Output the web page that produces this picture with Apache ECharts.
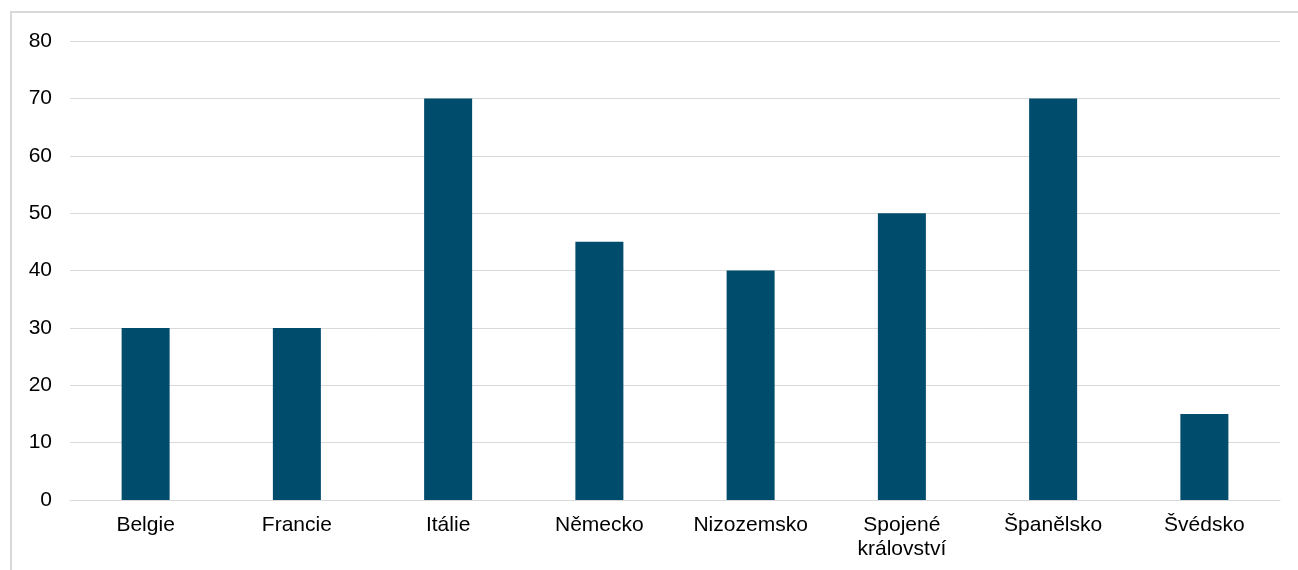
<!DOCTYPE html>
<html>
<head>
<meta charset="utf-8">
<script src="https://cdn.jsdelivr.net/npm/echarts@6/dist/echarts.min.js"></script>
<style>
  html, body { margin: 0; padding: 0; background: #fff; }
  #chart { width: 1298px; height: 570px; }
</style>
</head>
<body>
<div id="chart"></div>
<script>
const categories = ['Belgie', 'Francie', 'Itálie', 'Německo', 'Nizozemsko', 'Spojené\nkrálovství', 'Španělsko', 'Švédsko'];
const values = [30, 30, 70, 45, 40, 50, 70, 15];
const yTicks = { min: 0, max: 80, interval: 10 };

const chart = echarts.init(document.getElementById('chart'), null, { renderer: 'canvas' });
chart.setOption({
  animation: false,
  backgroundColor: '#ffffff',
  graphic: [{
    type: 'rect',
    shape: { x: 11, y: 12, width: 1300, height: 600 },
    style: { fill: 'none', stroke: '#d9d9d9', lineWidth: 2 },
    silent: true
  }],
  grid: { left: 70, right: 18, top: 41, bottom: 70, containLabel: false },
  xAxis: {
    type: 'category',
    data: categories,
    axisLine: { show: true, lineStyle: { color: '#d9d9d9', width: 1 } },
    axisTick: { show: false },
    axisLabel: {
      color: '#000', fontFamily: 'Liberation Sans, Arial, sans-serif', fontSize: 21,
      margin: 13, lineHeight: 24, interval: 0
    }
  },
  yAxis: {
    type: 'value',
    min: yTicks.min, max: yTicks.max, interval: yTicks.interval,
    axisLine: { show: false },
    axisTick: { show: false },
    splitLine: { lineStyle: { color: '#d9d9d9', width: 1 } },
    axisLabel: {
      color: '#000', fontFamily: 'Liberation Sans, Arial, sans-serif', fontSize: 21, margin: 18
    }
  },
  series: [{
    type: 'bar',
    data: values,
    barWidth: 48,
    itemStyle: { color: '#004c6d' }
  }]
});
</script>
</body>
</html>
